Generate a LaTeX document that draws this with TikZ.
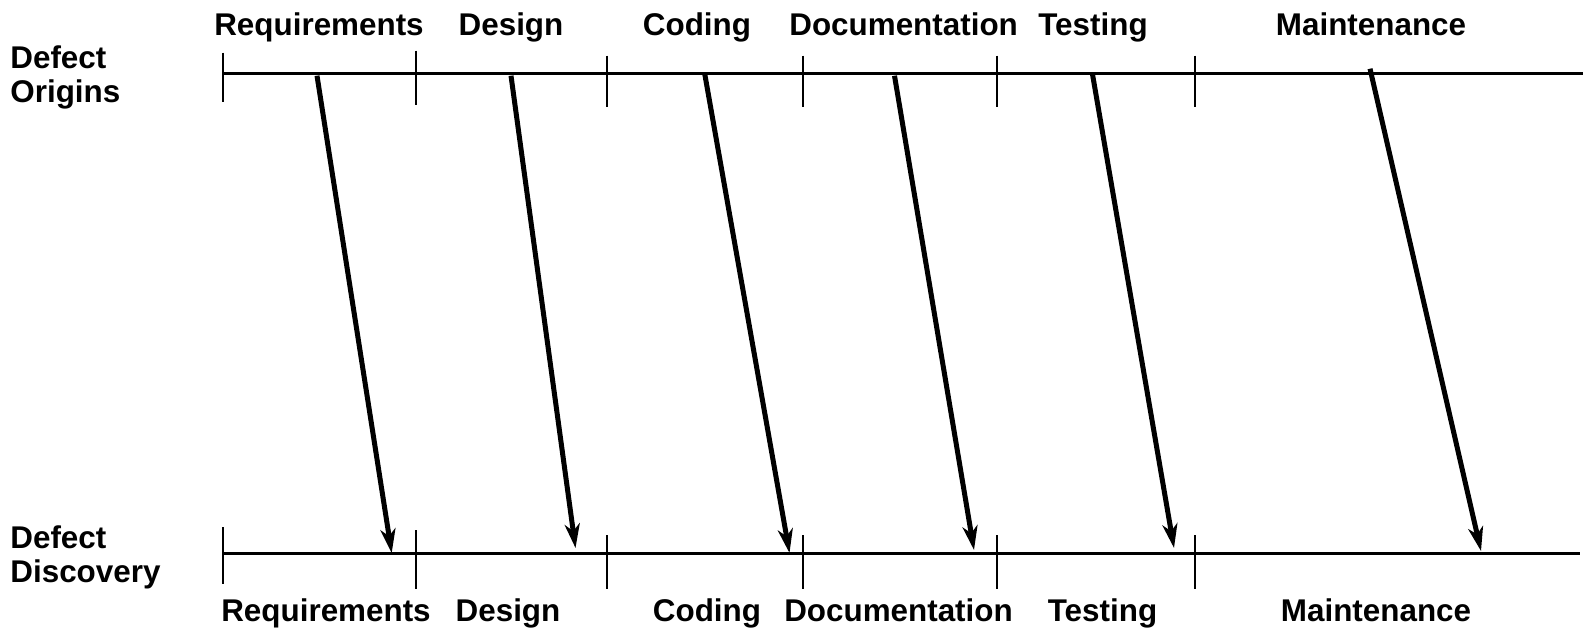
\documentclass[tikz,border=0pt]{standalone}
\usepackage{fontspec}
\setmainfont{Liberation Sans}
\usetikzlibrary{arrows.meta}
\begin{document}
\begin{tikzpicture}[x=0.5pt,y=-0.5pt,
  lbl/.style={font=\fontsize{15.7pt}{17pt}\selectfont\bfseries, inner sep=0pt, anchor=base},
  side/.style={font=\fontsize{15.7pt}{17pt}\selectfont\bfseries, inner sep=0pt, anchor=base west},
  axis/.style={line width=1.4pt},
  tick/.style={line width=1.3pt},
  flow/.style={line width=2.5pt, -{Stealth[length=12pt,width=7.5pt,inset=3.5pt]}}]
\useasboundingbox (0,0) rectangle (1583,628);
% axes
\coordinate (t0) at (223,73.7); \coordinate (t1) at (1583,73.7);
\coordinate (b0) at (223,553.3); \coordinate (b1) at (1580,553.3);
\draw[axis] (t0) -- (t1);
\draw[axis] (b0) -- (b1);
% top ticks
\coordinate (tt1a) at (223,52.5); \coordinate (tt1b) at (223,102);
\coordinate (tt2a) at (416,50.5); \coordinate (tt2b) at (416,105);
\coordinate (tt3a) at (607,55.5); \coordinate (tt3b) at (607,107);
\coordinate (tt4a) at (803,55.5); \coordinate (tt4b) at (803,107);
\coordinate (tt5a) at (997,55.5); \coordinate (tt5b) at (997,107);
\coordinate (tt6a) at (1195,55.5); \coordinate (tt6b) at (1195,107);
\foreach \i in {1,...,6} \draw[tick] (tt\i a) -- (tt\i b);
% bottom ticks
\coordinate (bt1a) at (223,527); \coordinate (bt1b) at (223,583.5);
\coordinate (bt2a) at (416,530); \coordinate (bt2b) at (416,588.6);
\coordinate (bt3a) at (607,535); \coordinate (bt3b) at (607,588.6);
\coordinate (bt4a) at (803,535); \coordinate (bt4b) at (803,588.6);
\coordinate (bt5a) at (997,535); \coordinate (bt5b) at (997,588.6);
\coordinate (bt6a) at (1195,535); \coordinate (bt6b) at (1195,588.6);
\foreach \i in {1,...,6} \draw[tick] (bt\i a) -- (bt\i b);
% side labels
\node[side] (orig1) at (10,68) {Defect};
\node[side] (orig2) at (10,102) {Origins};
\node[side] (disc1) at (10,548.5) {Defect};
\node[side] (disc2) at (10,582.5) {Discovery};
% top labels
\node[lbl] (tl1) at (319,35.5) {Requirements};
\node[lbl] (tl2) at (511,35.5) {Design};
\node[lbl] (tl3) at (697,35.5) {Coding};
\node[lbl] (tl4) at (903.6,35.5) {Documentation};
\node[lbl] (tl5) at (1093,35.5) {Testing};
\node[lbl] (tl6) at (1371,35.5) {Maintenance};
% bottom labels
\node[lbl] (bl1) at (326,621) {Requirements};
\node[lbl] (bl2) at (508,621) {Design};
\node[lbl] (bl3) at (707,621) {Coding};
\node[lbl] (bl4) at (898.5,621) {Documentation};
\node[lbl] (bl5) at (1102.5,621) {Testing};
\node[lbl] (bl6) at (1376,621) {Maintenance};
% arrows
\coordinate (s1) at (317,75.7);   \coordinate (e1) at (391.7,553);
\coordinate (s2) at (511,75.7);   \coordinate (e2) at (575.5,548);
\coordinate (s3) at (704.7,73.7); \coordinate (e3) at (789.5,553);
\coordinate (s4) at (894.5,75.7); \coordinate (e4) at (974,550);
\coordinate (s5) at (1092.4,73.7);\coordinate (e5) at (1174,548);
\coordinate (s6) at (1370,68.7);  \coordinate (e6) at (1481,551);
\foreach \i in {1,...,6} \draw[flow] (s\i) -- (e\i);
\end{tikzpicture}
\end{document}
